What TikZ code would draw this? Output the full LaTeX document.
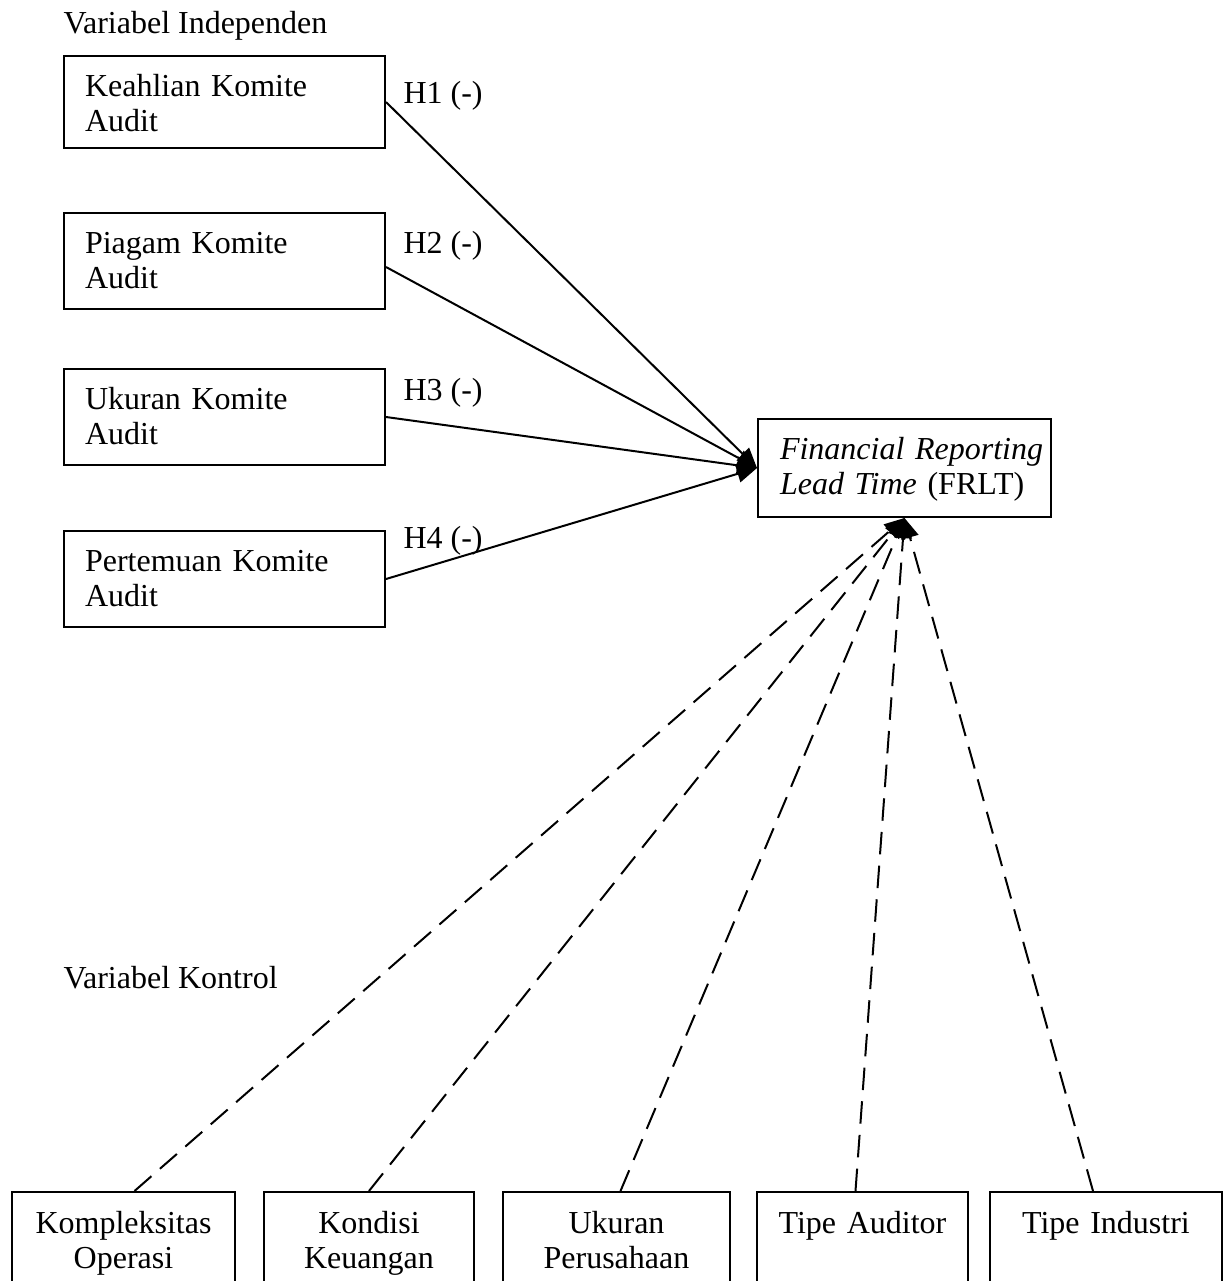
\documentclass[tikz,border=0pt]{standalone}
\usepackage{fontspec}
\setmainfont{Liberation Serif}
\usetikzlibrary{arrows.meta,calc}

\begin{document}
\begin{tikzpicture}[x=0.4pt,y=-0.4pt,
  every node/.style={font=\fontsize{12.8}{14}\selectfont, inner sep=0pt},
  ivbox/.style={draw=black, line width=0.8pt, anchor=north west, align=left,
    inner xsep=8.4pt, text width=111.6pt, text height=16pt, text depth=22.4pt},
  depbox/.style={draw=black, line width=0.8pt, anchor=north west, align=left,
    inner xsep=8.8pt, text width=99.6pt, text height=16pt, text depth=23.2pt},
  ctrlbox/.style={draw=black, line width=0.8pt, anchor=north, align=center,
    text height=16.4pt, text depth=27.2pt},
  hyp/.style={black, line width=0.8pt, -{Triangle[length=8pt,width=7pt]}},
  ctl/.style={hyp, dash pattern=on 9pt off 4.5pt}]
\clip (0,0) rectangle (1226,1281);
\node [anchor=base west] (indep) at (63,33) {Variabel Independen};
\node [anchor=base west] (kontrol) at (63,988) {Variabel Kontrol};
\node [ivbox, text depth=20.8pt] (keahlian) at (63,55) {Keahlian Komite\\Audit};
\node [ivbox] (piagam) at (63,212) {Piagam Komite\\Audit};
\node [ivbox] (ukuran) at (63,368) {Ukuran Komite\\Audit};
\node [ivbox] (pertemuan) at (63,530) {Pertemuan Komite\\Audit};
\node [depbox] (frlt) at (757,418) {\mbox{\textit{Financial Reporting}}\\\mbox{\textit{Lead Time} (FRLT)}};
\node [anchor=base west] (hone) at (403,103) {H1 (-)};
\node [anchor=base west] (htwo) at (403,253) {H2 (-)};
\node [anchor=base west] (hthree) at (403,400) {H3 (-)};
\node [anchor=base west] (hfour) at (403,548) {H4 (-)};
\node [ctrlbox, text width=89.2pt] (kompleks) at (123.5,1191) {Kompleksitas\\Operasi};
\node [ctrlbox, text width=84pt] (kondisi) at (369,1191) {Kondisi\\Keuangan};
\node [ctrlbox, text width=90.8pt] (ukperus) at (616.5,1191) {Ukuran\\Perusahaan};
\node [ctrlbox, text width=84.4pt] (tipeaud) at (862.5,1191) {Tipe Auditor};
\node [ctrlbox, text width=92.8pt] (tipeind) at (1106,1191) {Tipe Industri};
\draw [hyp] (keahlian.east) -- (frlt.west);
\draw [hyp] ($(piagam.east)+(0,6)$) -- (frlt.west);
\draw [hyp] (ukuran.east) -- (frlt.west);
\draw [hyp] (pertemuan.east) -- (frlt.west);
\draw [ctl] ($(kompleks.north)+(11,0)$) -- (frlt.south);
\draw [ctl] (kondisi.north) -- (frlt.south);
\draw [ctl] ($(ukperus.north)+(4,0)$) -- (frlt.south);
\draw [ctl] ($(tipeaud.north)+(-7,0)$) -- (frlt.south);
\draw [ctl] ($(tipeind.north)+(-13,0)$) -- (frlt.south);
\end{tikzpicture}
\end{document}
